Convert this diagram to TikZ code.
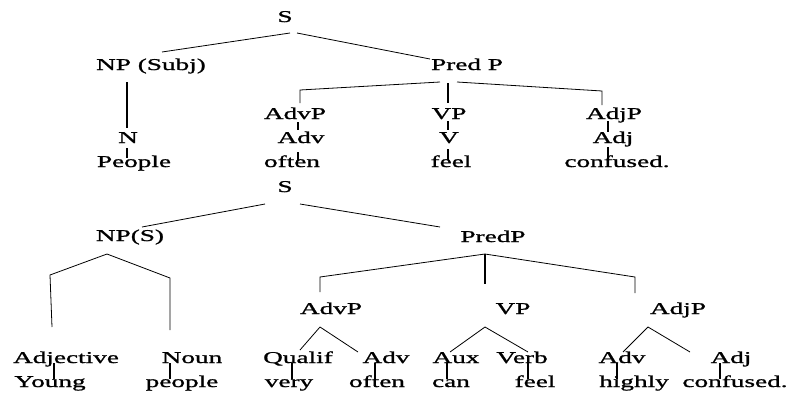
\documentclass[tikz,border=0pt]{standalone}
\usepackage{fontspec}
\setmainfont{Liberation Serif}[FakeStretch=1.65,FakeBold=1.2]
\usetikzlibrary{calc}

\begin{document}
\begin{tikzpicture}[
	x=1pt, y=-1pt,
	lbl/.style={anchor=base, inner sep=0pt, font=\fontsize{16.5}{18}\selectfont},
	edge/.style={line width=0.8pt, line join=miter},
	stem/.style={line width=1.2pt}
	]
	\useasboundingbox (0,0) rectangle (789,394);

	% ---------------- first tree ----------------
	\node[lbl] (s1) at (285,22) {S};
	\node[lbl] (npsubj) at (151,70) {NP (Subj)};
	\node[lbl] (predp) at (467,70) {Pred P};

	\node[lbl] (n) at (128,143) {N};
	\node[lbl] (people) at (134,167) {People};

	\node[lbl] (advp) at (295,119) {AdvP};
	\node[lbl] (adv) at (301,143) {Adv};
	\node[lbl] (often) at (292,167) {often};

	\node[lbl] (vp) at (449,119) {VP};
	\node[lbl] (v) at (449,143) {V};
	\node[lbl] (feel) at (451,167) {feel};

	\node[lbl] (adjp) at (614,119) {AdjP};
	\node[lbl] (adj) at (613,143) {Adj};
	\node[lbl] (confused) at (617,167) {confused.};

	\draw[edge] ($(s1.base)+(5,11)$) -- ($(npsubj.base)+(11,-18)$);
	\draw[edge] ($(s1.base)+(12,11)$) -- ($(predp.base)+(-37,-11)$);
	\draw[stem] ($(npsubj.base)+(-24,12)$) -- ($(n.base)+(-1,-15)$);
	\draw[stem] ($(n.base)+(-1,5)$) -- ($(people.base)+(-7,-9)$);

	\draw[edge] ($(predp.base)+(-27,12)$) -- ($(advp.base)+(5,-29)$) -- ($(advp.base)+(5,-16)$);
	\draw[stem] ($(predp.base)+(-19,13)$) -- ($(vp.base)+(-1,-16)$);
	\draw[edge] ($(predp.base)+(-10,12)$) -- ($(adjp.base)+(-12,-28)$) -- ($(adjp.base)+(-12,-14)$);

	\draw[stem] ($(advp.base)+(3,3)$) -- ($(adv.base)+(-3,-13)$);
	\draw[stem] ($(adv.base)+(-3,9)$) -- ($(often.base)+(6,-6)$);
	\draw[stem] ($(vp.base)+(-1,2)$) -- ($(v.base)+(-1,-13)$);
	\draw[stem] ($(v.base)+(-1,6)$) -- ($(feel.base)+(-3,-7)$);
	\draw[stem] ($(adjp.base)+(-6,2)$) -- ($(adj.base)+(-5,-11)$);
	\draw[stem] ($(adj.base)+(-5,4)$) -- ($(confused.base)+(-9,-4)$);

	% ---------------- second tree ----------------
	\node[lbl] (s2) at (285,192) {S};
	\node[lbl] (nps) at (130,241) {NP(S)};
	\node[lbl] (predp2) at (493,242) {PredP};

	\node[lbl] (advp2) at (331,314) {AdvP};
	\node[lbl] (vp2) at (513,314) {VP};
	\node[lbl] (adjp2) at (678,314) {AdjP};

	\node[lbl] (adjective) at (66,363) {Adjective};
	\node[lbl] (noun) at (192,363) {Noun};
	\node[lbl] (qualif) at (298,363) {Qualif};
	\node[lbl] (advb) at (386,363) {Adv};
	\node[lbl] (aux) at (456,363) {Aux};
	\node[lbl] (verb) at (522,363) {Verb};
	\node[lbl] (advc) at (622,363) {Adv};
	\node[lbl] (adjb) at (731,363) {Adj};

	\node[lbl] (young) at (50,387) {Young};
	\node[lbl] (people2) at (182,387) {people};
	\node[lbl] (very) at (289,387) {very};
	\node[lbl] (often2) at (377,387) {often};
	\node[lbl] (can) at (451,387) {can};
	\node[lbl] (feel2) at (535,387) {feel};
	\node[lbl] (highly) at (634,387) {highly};
	\node[lbl] (confused2) at (735,387) {confused.};

	\draw[edge] ($(s2.base)+(-20,12)$) -- ($(nps.base)+(12,-14)$);
	\draw[edge] ($(s2.base)+(15,12)$) -- ($(predp2.base)+(-53,-15)$);

	\draw[edge] ($(nps.base)+(-23,13)$) -- ($(adjective.base)+(-16,-88)$) -- ($(adjective.base)+(-14,-36)$);
	\draw[edge] ($(nps.base)+(-23,13)$) -- ($(noun.base)+(-22,-85)$) -- ($(noun.base)+(-22,-33)$);

	\draw[edge] ($(predp2.base)+(-8,12)$) -- ($(advp2.base)+(-11,-37)$) -- ($(advp2.base)+(-11,-22)$);
	\draw[stem] ($(predp2.base)+(-8,12)$) -- ($(vp2.base)+(-28,-30)$);
	\draw[edge] ($(predp2.base)+(-8,12)$) -- ($(adjp2.base)+(-43,-37)$) -- ($(adjp2.base)+(-43,-21)$);

	\draw[edge] ($(advp2.base)+(-11,13)$) -- ($(qualif.base)+(2,-13)$);
	\draw[edge] ($(advp2.base)+(-11,13)$) -- ($(advb.base)+(-28,-11)$);
	\draw[edge] ($(vp2.base)+(-28,13)$) -- ($(aux.base)+(-6,-11)$);
	\draw[edge] ($(vp2.base)+(-28,13)$) -- ($(verb.base)+(6,-11)$);
	\draw[edge] ($(adjp2.base)+(-30,13)$) -- ($(advc.base)+(1,-11)$);
	\draw[edge] ($(adjp2.base)+(-30,13)$) -- ($(adjb.base)+(-41,-11)$);

	\draw[stem] ($(adjective.base)+(-12,0)$) -- ($(young.base)+(4,-8)$);
	\draw[stem] ($(noun.base)+(-22,0)$) -- ($(people2.base)+(-12,-8)$);
	\draw[stem] ($(qualif.base)+(-6,0)$) -- ($(very.base)+(3,-8)$);
	\draw[stem] ($(advb.base)+(-11,0)$) -- ($(often2.base)+(-2,-8)$);
	\draw[stem] ($(aux.base)+(-9,0)$) -- ($(can.base)+(-4,-8)$);
	\draw[stem] ($(verb.base)+(6,0)$) -- ($(feel2.base)+(-7,-8)$);
	\draw[stem] ($(advc.base)+(-5,0)$) -- ($(highly.base)+(-17,-8)$);
	\draw[stem] ($(adjb.base)+(-11,0)$) -- ($(confused2.base)+(-15,-8)$);
\end{tikzpicture}
\end{document}
